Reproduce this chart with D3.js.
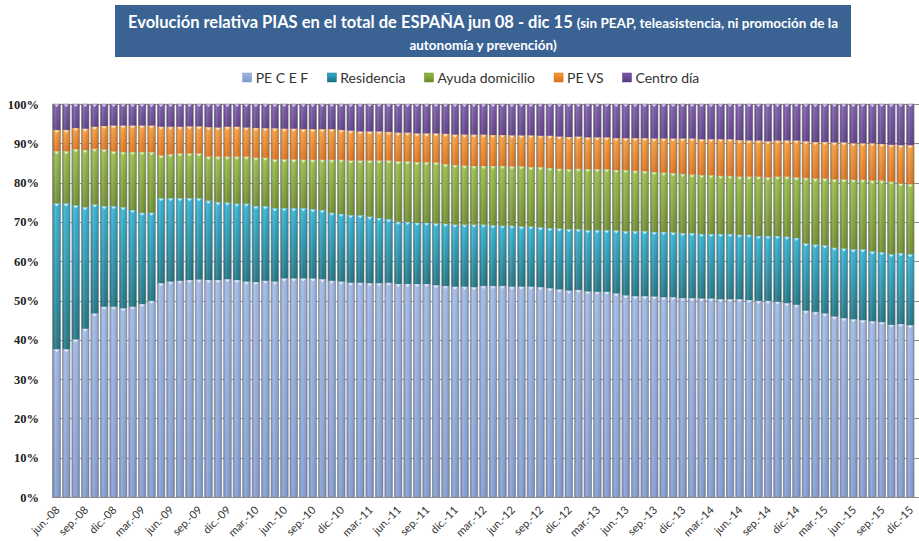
<!DOCTYPE html>
<html>
<head>
<meta charset="utf-8">
<script src="https://cdn.jsdelivr.net/npm/d3@7"></script>
<style>
  body { margin: 0; background: #fff; }
  svg { display: block; }
</style>
</head>
<body>
<svg id="chart" width="919" height="541"></svg>
<script>
(function() {
  'use strict';

// series, share of each month (in %), jun-08 .. dic-15
var peCEF = [37.6,37.6,40.1,42.8,46.7,48.4,48.4,48.0,48.4,49.1,49.9,54.4,54.8,55.0,55.2,55.3,55.2,55.2,55.4,55.2,
  54.8,54.7,55.0,54.8,55.6,55.6,55.6,55.6,55.4,55.0,54.8,54.5,54.5,54.4,54.4,54.5,54.2,54.2,54.2,54.2,
  53.9,53.7,53.5,53.5,53.4,53.7,53.7,53.7,53.5,53.5,53.5,53.4,53.1,52.8,52.5,52.7,52.3,52.2,52.2,51.8,
  51.3,51.1,51.1,51.0,50.8,50.8,50.6,50.6,50.5,50.5,50.3,50.3,50.3,50.1,49.9,49.9,49.7,49.3,48.9,47.4,
  47.1,46.7,45.9,45.5,45.2,45.0,44.7,44.5,43.8,44.0,43.7];
var residencia = [37.1,37.1,34.1,30.9,27.7,25.6,25.6,25.7,24.6,23.2,22.4,21.6,21.2,21.0,20.8,20.7,20.2,19.8,19.5,19.4,
  19.8,19.3,19.0,18.7,17.9,17.9,17.9,17.6,17.6,17.3,17.2,17.2,17.2,16.9,16.6,16.2,15.8,15.8,15.6,15.6,
  15.7,15.8,15.8,15.8,15.9,15.6,15.4,15.3,15.5,15.3,15.3,15.2,15.3,15.5,15.6,15.4,15.6,15.7,15.7,16.0,
  16.3,16.5,16.5,16.4,16.6,16.5,16.5,16.5,16.4,16.4,16.6,16.6,16.4,16.6,16.5,16.5,16.7,16.9,17.0,17.1,
  17.1,17.3,17.5,17.7,17.8,18.0,17.8,17.8,18.0,18.0,18.1];
var ayudaDom = [13.3,13.3,14.3,14.6,14.2,14.4,13.9,14.1,14.8,15.5,15.4,10.9,11.2,11.4,11.4,11.4,11.2,11.6,11.7,12.0,
  12.0,12.3,12.3,12.4,12.4,12.4,12.3,12.6,12.8,13.5,13.8,13.9,13.9,14.3,14.6,14.9,15.4,15.4,15.4,15.4,
  15.5,15.2,15.2,15.0,14.9,14.9,15.1,15.2,15.1,15.3,15.1,15.3,15.3,15.2,15.3,15.4,15.5,15.5,15.5,15.4,
  15.6,15.4,15.3,15.3,15.1,15.1,15.1,14.9,15.0,15.0,14.8,14.8,14.8,14.8,15.1,14.9,15.1,15.3,15.4,16.7,
  16.8,17.0,17.4,17.6,17.7,17.7,18.0,18.2,18.4,17.8,17.8];
var peVS = [5.4,5.4,5.4,5.4,5.6,6.0,6.6,6.7,6.7,6.7,6.8,7.3,7.0,6.8,6.9,6.9,7.5,7.4,7.6,7.6,
  7.4,7.6,7.5,7.9,7.8,7.8,7.8,7.8,7.8,7.8,7.6,7.6,7.4,7.4,7.4,7.3,7.3,7.3,7.3,7.3,
  7.4,7.7,7.7,7.9,8.0,8.0,7.9,7.9,7.9,7.9,8.1,8.0,8.2,8.2,8.2,8.2,8.1,8.1,8.1,8.1,
  8.1,8.3,8.4,8.5,8.7,8.8,9.0,9.2,9.1,9.1,9.3,9.3,9.3,9.2,9.2,9.2,9.2,9.2,9.4,9.3,
  9.3,9.3,9.4,9.4,9.3,9.3,9.5,9.3,9.4,9.7,9.9];
var centroDia = [6.6,6.6,6.1,6.3,5.8,5.6,5.5,5.5,5.5,5.5,5.5,5.8,5.8,5.8,5.7,5.7,5.9,6.0,5.8,5.8,
  6.0,6.1,6.2,6.2,6.3,6.3,6.4,6.4,6.4,6.4,6.6,6.8,7.0,7.0,7.0,7.1,7.3,7.3,7.5,7.5,
  7.5,7.6,7.8,7.8,7.8,7.8,7.9,7.9,8.0,8.0,8.0,8.1,8.1,8.3,8.4,8.3,8.5,8.5,8.5,8.7,
  8.7,8.7,8.7,8.8,8.8,8.8,8.8,8.8,9.0,9.0,9.0,9.0,9.2,9.3,9.3,9.5,9.3,9.3,9.3,9.5,
  9.7,9.7,9.8,9.8,10.0,10.0,10.0,10.2,10.4,10.5,10.5];

var seriesNames = ["PE C E F", "Residencia", "Ayuda domicilio", "PE VS", "Centro día"];
var monthNames = ["ene.", "feb.", "mar.", "abr.", "may.", "jun.", "jul.", "ago.", "sep.", "oct.", "nov.", "dic."];
var yTicks = [0, 0.1, 0.2, 0.3, 0.4, 0.5, 0.6, 0.7, 0.8, 0.9, 1];

// months jun-08 .. dic-15
var categories = [];
for (var yr = 8; yr <= 15; yr++) {
  for (var m = (yr === 8 ? 5 : 0); m < 12; m++) {
    categories.push(monthNames[m] + "-" + (yr < 10 ? "0" + yr : yr));
  }
}

var allSeries = [peCEF, residencia, ayudaDom, peVS, centroDia];
var table = categories.map(function(c, i) {
  var row = {cat: c};
  seriesNames.forEach(function(s, k) { row[s] = allSeries[k][i]; });
  return row;
});

var colors = [
  ["#9cb5e2", "#8099cf"],
  ["#2fb0d2", "#1a7080"],
  ["#94bb45", "#6b8b2b"],
  ["#f69a38", "#da6f18"],
  ["#7b57a9", "#5a3a85"]
];

var svg = d3.select("#chart");
var defs = svg.append("defs");

colors.forEach(function(c, k) {
  var g = defs.append("linearGradient").attr("id", "vg" + k)
    .attr("x1", 0).attr("y1", 0).attr("x2", 0).attr("y2", 1);
  g.append("stop").attr("offset", "0%").attr("stop-color", c[0]);
  g.append("stop").attr("offset", "100%").attr("stop-color", c[1]);
});
var shine = defs.append("linearGradient").attr("id", "shine")
  .attr("x1", 0).attr("y1", 0).attr("x2", 1).attr("y2", 0);
[[0, "#000", 0.18], [0.3, "#fff", 0.18], [0.55, "#fff", 0.05], [1, "#000", 0.22]].forEach(function(s) {
  shine.append("stop").attr("offset", s[0]).attr("stop-color", s[1]).attr("stop-opacity", s[2]);
});

var left = 52, right = 919, top = 104, bottom = 497;

var x = d3.scaleBand().domain(categories).range([left, 915]).paddingInner(0.2).paddingOuter(0.1);
var y = d3.scaleLinear().domain([0, 1]).range([bottom, top]);

// gridlines
svg.append("g").selectAll("line").data(yTicks).enter().append("line")
  .attr("x1", left).attr("x2", right)
  .attr("y1", function(d) { return Math.round(y(d)) + 0.5; })
  .attr("y2", function(d) { return Math.round(y(d)) + 0.5; })
  .attr("stroke", "#8c8c8c").attr("stroke-width", 1);
svg.append("line").attr("x1", left + 0.5).attr("x2", left + 0.5).attr("y1", top).attr("y2", bottom)
  .attr("stroke", "#a6a6a6");

// stacked bars
var stack = d3.stack().keys(seriesNames).offset(d3.stackOffsetExpand);
var layers = stack(table);

var gBars = svg.append("g");
layers.forEach(function(layer, k) {
  gBars.append("g").selectAll("rect").data(layer).enter().append("rect")
    .attr("x", function(d) { return x(d.data.cat); })
    .attr("width", x.bandwidth())
    .attr("y", function(d) { return y(d[1]); })
    .attr("height", function(d) { return y(d[0]) - y(d[1]); })
    .attr("fill", "url(#vg" + k + ")");
});

// bevel overlay per bar
gBars.append("g").selectAll("rect").data(table).enter().append("rect")
  .attr("x", function(d) { return x(d.cat); })
  .attr("width", x.bandwidth())
  .attr("y", top).attr("height", bottom - top)
  .attr("fill", "url(#shine)")
  .attr("stroke", "#8a8a8a").attr("stroke-width", 0.6);

// small light notch on top of each segment
layers.forEach(function(layer, k) {
  gBars.append("g").selectAll("path").data(layer).enter().append("path")
    .attr("d", function(d) {
      var cx = x(d.data.cat) + x.bandwidth() / 2, yy = y(d[1]) + 0.5;
      return "M" + (cx - 2.2) + "," + yy + "L" + (cx + 2.2) + "," + yy + "L" + cx + "," + (yy + 2.5) + "Z";
    })
    .attr("fill", "#ffffff").attr("fill-opacity", 0.75);
});

// y axis
var yAxis = svg.append("g").attr("transform", "translate(" + left + ",0)")
  .call(d3.axisLeft(y).tickValues(yTicks).tickFormat(d3.format(".0%")).tickSize(0).tickPadding(13));
yAxis.select(".domain").remove();
yAxis.selectAll("text").attr("font-family", "Liberation Serif, serif").attr("font-size", 12.5)
  .attr("font-weight", "bold").attr("fill", "#222");

// x axis
var xTicks = categories.filter(function(d, i) { return i % 3 === 0; });
var xAxis = svg.append("g").attr("transform", "translate(0," + bottom + ")")
  .call(d3.axisBottom(x).tickValues(xTicks).tickSize(0));
xAxis.select(".domain").attr("stroke", "#8c8c8c").attr("d", "M" + left + ",0.5H" + right);
xAxis.selectAll("text")
  .attr("font-family", "Lato, sans-serif").attr("font-size", 11).attr("fill", "#333")
  .attr("text-anchor", "end")
  .attr("transform", "translate(1,11) rotate(-45)")
  .attr("dy", "0.35em").attr("y", 0);

// title banner
svg.append("rect").attr("x", 115).attr("y", 5).attr("width", 736).attr("height", 52).attr("fill", "#3a6394");
var title = svg.append("text").attr("x", 483).attr("y", 28).attr("text-anchor", "middle")
  .attr("font-family", "Lato, sans-serif").attr("fill", "#fff").attr("font-weight", "bold");
title.append("tspan").attr("font-size", 16.5).text("Evolución relativa PIAS en el total de ESPAÑA jun 08 - dic 15 ");
title.append("tspan").attr("font-size", 13.5).text("(sin PEAP, teleasistencia, ni promoción de la");
svg.append("text").attr("x", 483).attr("y", 50).attr("text-anchor", "middle")
  .attr("font-family", "Lato, sans-serif").attr("fill", "#fff").attr("font-weight", "bold")
  .attr("font-size", 13.5).text("autonomía y prevención)");

// legend
var legend = svg.append("g");
var lx = 0;
seriesNames.forEach(function(s, k) {
  var item = legend.append("g").attr("transform", "translate(" + lx + ",0)");
  item.append("rect").attr("x", 0).attr("y", 73).attr("width", 9).attr("height", 9)
    .attr("fill", "url(#vg" + k + ")").attr("stroke", colors[k][1]).attr("stroke-width", 0.5);
  var t = item.append("text").attr("x", 13).attr("y", 82.5)
    .attr("font-family", "Lato, sans-serif").attr("font-size", 14).attr("fill", "#333").text(s);
  lx += 13 + t.node().getComputedTextLength() + 19;
});
legend.attr("transform", "translate(" + (471 - (lx - 19) / 2) + ",0)");

})();
</script>
</body>
</html>
